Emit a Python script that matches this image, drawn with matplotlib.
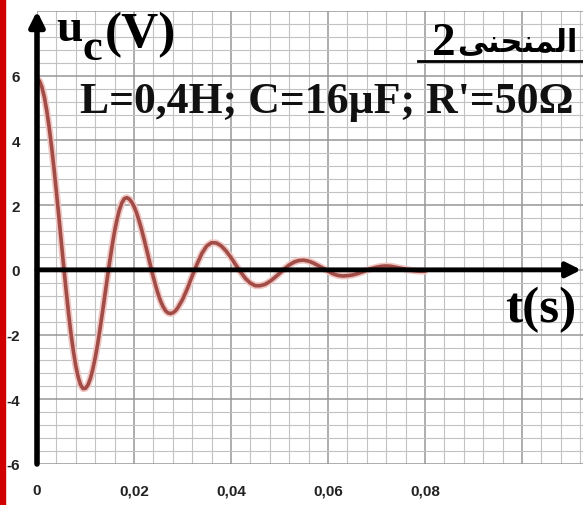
import matplotlib
matplotlib.use("Agg")
import matplotlib.pyplot as plt
from matplotlib.ticker import MultipleLocator
from matplotlib.lines import Line2D
from matplotlib.patches import Rectangle

# curve (time in ms, voltage in V)
t_ms = [0, 0.5, 1, 1.5, 2, 2.5, 3, 3.5, 4, 4.5, 5, 5.5, 6, 6.5, 7, 7.5,
        8, 8.5, 9, 9.5, 10, 10.5, 11, 11.5, 12, 12.5, 13, 13.5, 14, 14.5,
        15, 15.5, 16, 16.5, 17, 17.5, 18, 18.5, 19, 19.5, 20, 20.5, 21,
        21.5, 22, 22.5, 23, 23.5, 24, 24.5, 25, 25.5, 26, 26.5, 27, 27.5,
        28, 28.5, 29, 30, 31, 32, 33, 34, 35, 36, 37, 38, 39, 40, 41, 42,
        43, 44, 45, 46, 47, 48, 49, 50, 51, 52, 53, 54, 55, 56, 57, 58, 59,
        60, 61, 62, 63, 64, 65, 66, 67, 68, 69, 70, 71, 72, 73, 74, 75, 76,
        77, 78, 79, 80]
u_c = [5.90, 5.84, 5.65, 5.35, 4.93, 4.41, 3.81, 3.14, 2.41, 1.65, 0.88,
       0.11, -0.63, -1.33, -1.97, -2.51, -2.97, -3.32, -3.56, -3.67, -3.66,
       -3.56, -3.36, -3.08, -2.72, -2.30, -1.82, -1.31, -0.78, -0.25, 0.27,
       0.75, 1.19, 1.56, 1.86, 2.07, 2.20, 2.23, 2.19, 2.10, 1.96, 1.77,
       1.54, 1.28, 0.99, 0.69, 0.38, 0.07, -0.23, -0.51, -0.76, -0.97,
       -1.14, -1.26, -1.33, -1.35, -1.33, -1.27, -1.18, -0.92, -0.58, -0.19,
       0.18, 0.51, 0.74, 0.84, 0.83, 0.74, 0.58, 0.38, 0.15, -0.07, -0.27,
       -0.41, -0.49, -0.49, -0.45, -0.36, -0.24, -0.11, 0.03, 0.15, 0.24,
       0.29, 0.30, 0.27, 0.21, 0.13, 0.05, -0.04, -0.12, -0.17, -0.19,
       -0.18, -0.16, -0.12, -0.07, -0.01, 0.04, 0.08, 0.11, 0.12, 0.11,
       0.08, 0.05, 0.02, -0.01, -0.03, -0.04, -0.04]

x_ticks = [0, 0.02, 0.04, 0.06, 0.08, 0.10]
x_labels = ["0", "0,02", "0,04", "0,06", "0,08", ""]
y_ticks = [-6, -4, -2, 0, 2, 4, 6, 8]
y_labels = ["-6", "-4", "-2", "0", "2", "4", "6", ""]

W, H = 583, 506


def fx(px):
    return px / W


def fy(py):
    return 1 - py / H


fig = plt.figure(figsize=(W / 100, H / 100), dpi=100)
fig.patch.set_facecolor("white")
ax = fig.add_axes([fx(37), fy(465), (W - 37) / W, (465 - 12) / H])

t = [v / 1000 for v in t_ms]
ax.plot(t, u_c, color="#f0c6c2", lw=5, solid_capstyle="round", zorder=3)
ax.plot(t, u_c, color="#a24c48", lw=2.6, solid_capstyle="round", zorder=4)

ax.set_xlim(0, 546 / 4850)
ax.set_ylim(-6, 8)
ax.set_xticks(x_ticks)
ax.set_xticklabels(x_labels)
ax.set_yticks(y_ticks)
ax.set_yticklabels(y_labels)
ax.xaxis.set_minor_locator(MultipleLocator(0.004))
ax.yaxis.set_minor_locator(MultipleLocator(0.4))
ax.grid(which="major", color="#979797", lw=1.1)
ax.grid(which="minor", color="#c2c2c2", lw=0.8)
ax.set_axisbelow(True)
ax.tick_params(which="both", length=0)
ax.tick_params(axis="x", pad=14)
ax.tick_params(axis="y", pad=12)
for lab in ax.get_xticklabels() + ax.get_yticklabels():
    lab.set_family("Liberation Sans")
    lab.set_fontweight("bold")
    lab.set_fontsize(11)
    lab.set_color("#222222")
for s in ax.spines.values():
    s.set_visible(False)

# axes with arrows
ax.annotate("", xy=(0, 8.0), xytext=(0, -6), xycoords="data",
            arrowprops=dict(arrowstyle="-|>", lw=4, color="black",
                            mutation_scale=22, shrinkA=0, shrinkB=0),
            annotation_clip=False, zorder=6)
ax.annotate("", xy=(0.1122, 0), xytext=(0, 0), xycoords="data",
            arrowprops=dict(arrowstyle="-|>", lw=3.5, color="black",
                            mutation_scale=22, shrinkA=0, shrinkB=0),
            annotation_clip=False, zorder=6)

serif = "Liberation Serif"
fig.text(fx(56), fy(41), "u", family=serif, weight="bold", fontsize=34,
         va="baseline", ha="left")
fig.text(fx(82), fy(60), "c", family=serif, weight="bold", fontsize=32,
         va="baseline", ha="left")
fig.text(fx(105), fy(47), "(V)", family=serif, weight="bold", fontsize=37,
         va="baseline", ha="left")
fig.text(fx(80), fy(113), "L=0,4H; C=16\u00b5F; R'=50\u03a9", family=serif,
         weight="bold", fontsize=31.5, va="baseline", ha="left",
         color="#111111")
fig.text(fx(505), fy(322), "t(s)", family=serif, weight="bold", fontsize=37,
         va="baseline", ha="left")
fig.text(fx(432), fy(55), "2", family=serif, weight="bold", fontsize=34,
         va="baseline", ha="left")
# "المنحنى" in presentation forms, visual order
fig.text(fx(457), fy(51), "\ufef0\ufee8\ufea4\ufee8\ufee4\ufedf\ufe8d",
         family=["DejaVu Sans"], weight="bold", fontsize=22,
         va="baseline", ha="left")
fig.add_artist(Line2D([fx(418), fx(583)], [fy(62), fy(62)], color="black",
                      lw=2))

fig.add_artist(Rectangle((0, 0), fx(5), 1, transform=fig.transFigure,
                         color="#d10000", zorder=10))

fig.savefig("out.png", dpi=100)
